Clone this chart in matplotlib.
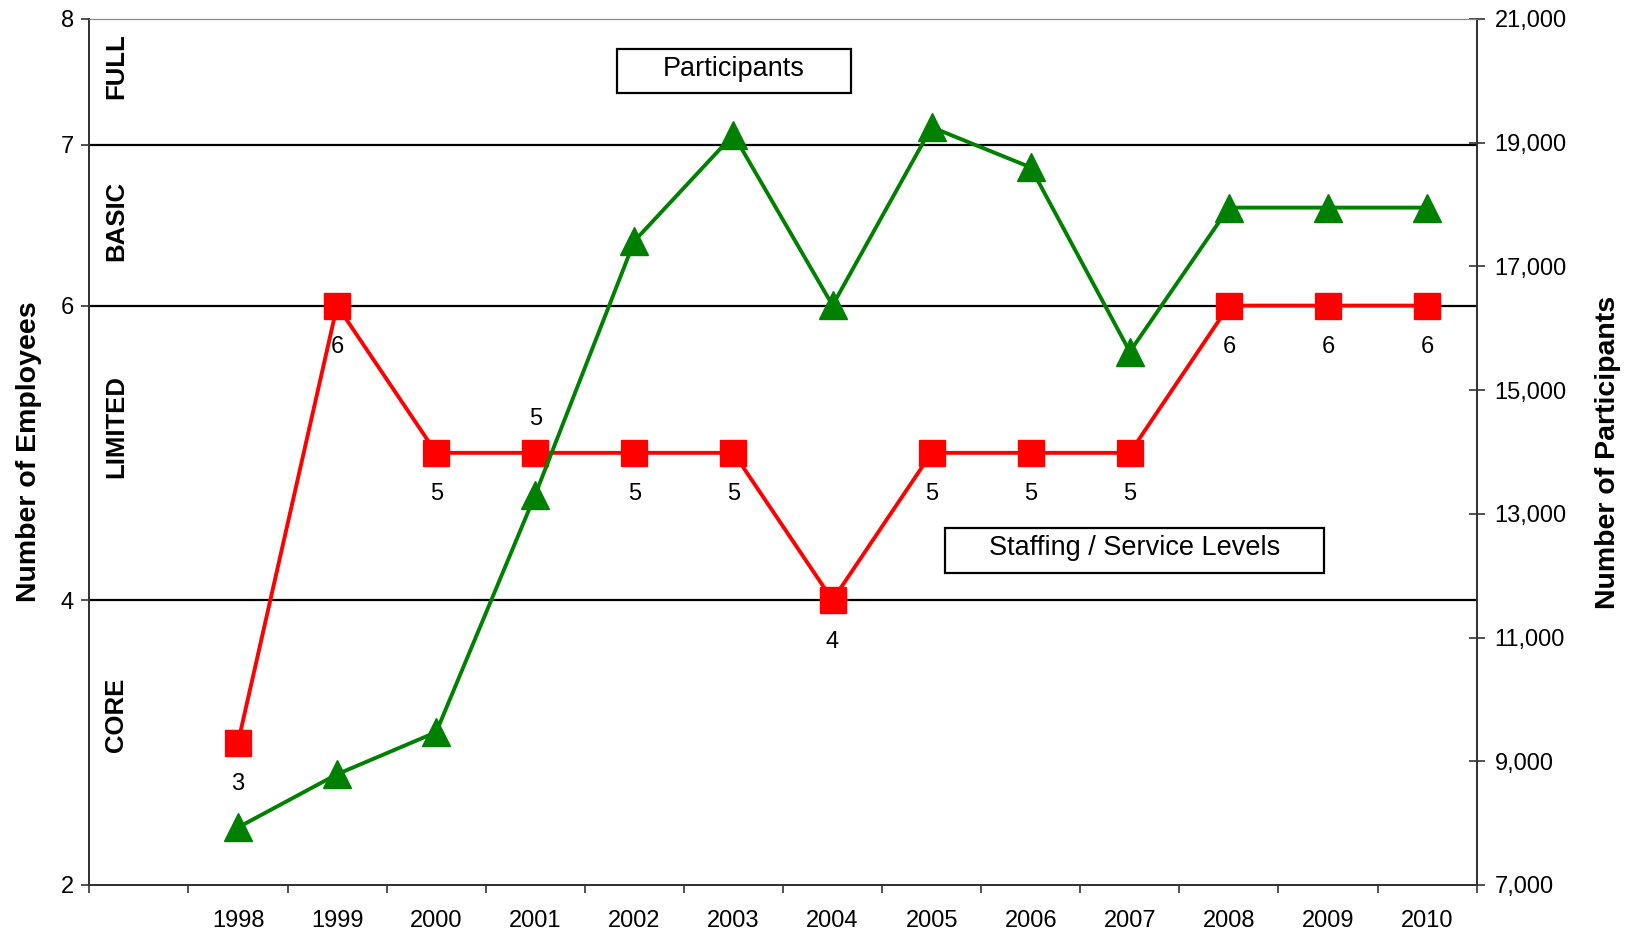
import matplotlib
matplotlib.use("Agg")
import matplotlib.pyplot as plt
import matplotlib.ticker as mticker
from matplotlib.patches import Rectangle
import numpy as np


# path to save graph
IMG_OUT = "out.png"

plt.rcParams['font.family'] = ['Liberation Sans', 'DejaVu Sans']

# data
years = ["1998", "1999", "2000", "2001", "2002", "2003", "2004",
	"2005", "2006", "2007", "2008", "2009", "2010"]
employees = [3, 6, 5, 5, 5, 5, 4, 5, 5, 5, 6, 6, 6]
participants = [7930, 8790, 9470, 13310, 17410, 19130, 16370,
	19250, 18600, 15620, 17950, 17950, 17950]
# which employee labels sit above the marker instead of below
label_above = [False, False, False, True, False, False, False,
	False, False, False, False, False, False]

# service levels (boundaries drawn as black lines)
level_lines = [4, 6, 7]
level_names = ["CORE", "LIMITED", "BASIC", "FULL"]
level_text_y = [0.196, 0.529, 0.767, 0.945]

# left axis is not linear: tick value -> fraction of axis height
emp_ticks = [2, 4, 6, 7, 8]
emp_frac = [0.0, 0.329, 0.669, 0.855, 1.0]

part_ticks = list(range(7000, 21001, 2000))

RED = "#FF0000"
GREEN = "#008000"
SPINE = "#333333"


# piecewise linear scale for the employee axis
def emp_forward(v):
	return np.interp(v, emp_ticks, emp_frac)


def emp_inverse(v):
	return np.interp(v, emp_frac, emp_ticks)


fig = plt.figure(figsize=(16.34, 9.34), dpi=100)
ax = fig.add_axes([0.0547, 0.0525, 0.849, 0.9272])
ax2 = ax.twinx()

x = np.arange(len(years))

# employees (left axis)
ax.set_yscale('function', functions=(emp_forward, emp_inverse))
ax.set_ylim(2, 8)
ax.set_xlim(-1.5, len(years) - 0.5)

for lv in level_lines:
	ax.axhline(lv, color="black", lw=1.6, zorder=1)

ax.plot(x, employees, color=RED, lw=2.8, marker='s', markersize=18.5,
	markeredgecolor=RED, zorder=3)

for xi, v, up in zip(x, employees, label_above):
	if up:
		off = 24
	else:
		off = -30
	ax.annotate(str(v), (xi, v), xytext=(0, off), textcoords='offset points',
		ha='center', va='center', fontsize=17)

for name, ty in zip(level_names, level_text_y):
	ax.text(0.0192, ty, name, transform=ax.transAxes, rotation=90,
		ha='center', va='center', fontsize=18.5, fontweight='bold')

# participants (right axis)
ax2.set_ylim(part_ticks[0], part_ticks[-1])
ax2.plot(x, participants, color=GREEN, lw=2.8, marker='^', markersize=20,
	markeredgecolor=GREEN, zorder=3)

# ticks and labels
ax.set_yticks(emp_ticks)
ax.yaxis.set_major_formatter(mticker.FormatStrFormatter('%d'))
ax.yaxis.set_minor_locator(mticker.NullLocator())
ax.tick_params(axis='y', direction='out', length=6, width=1.2,
	labelsize=17, pad=5, color=SPINE)

ax.set_xticks(np.arange(-1.5, len(years), 1.0))
ax.set_xticklabels([])
ax.set_xticks(x, minor=True)
ax.set_xticklabels(years, minor=True)
ax.tick_params(axis='x', which='major', direction='out', length=6,
	width=1.2, color=SPINE)
ax.tick_params(axis='x', which='minor', length=0, labelsize=17, pad=18)

ax2.set_yticks(part_ticks)
ax2.yaxis.set_major_formatter(mticker.StrMethodFormatter('{x:,.0f}'))
ax2.tick_params(axis='y', direction='inout', length=12, width=1.2,
	labelsize=17, pad=7, color=SPINE)

ax.set_ylabel("Number of Employees", fontsize=20.5, fontweight='bold')
ax.yaxis.set_label_coords(-0.0342, 0.5)
ax2.set_ylabel("Number of Participants", fontsize=20.5, fontweight='bold')
ax2.yaxis.set_label_coords(1.085, 0.5)

for a in (ax, ax2):
	a.spines['top'].set_color("#888888")
	for s in ('left', 'right', 'bottom'):
		a.spines[s].set_color(SPINE)
		a.spines[s].set_linewidth(1.3)

# boxed captions
boxes = [("Participants", 0.3801, 0.914, 0.1687, 0.051),
	("Staffing / Service Levels", 0.6168, 0.360, 0.2732, 0.052)]
for txt, bx, by, bw, bh in boxes:
	ax2.add_patch(Rectangle((bx, by), bw, bh, transform=ax2.transAxes,
		facecolor='white', edgecolor='black', lw=1.6, zorder=5))
	ax2.text(bx + bw / 2, by + bh / 2 + 0.003, txt,
		transform=ax2.transAxes, ha='center', va='center',
		fontsize=19.5, zorder=6)

print("saving plot as \"{0}\"".format(IMG_OUT))
fig.savefig(IMG_OUT, dpi=100)
